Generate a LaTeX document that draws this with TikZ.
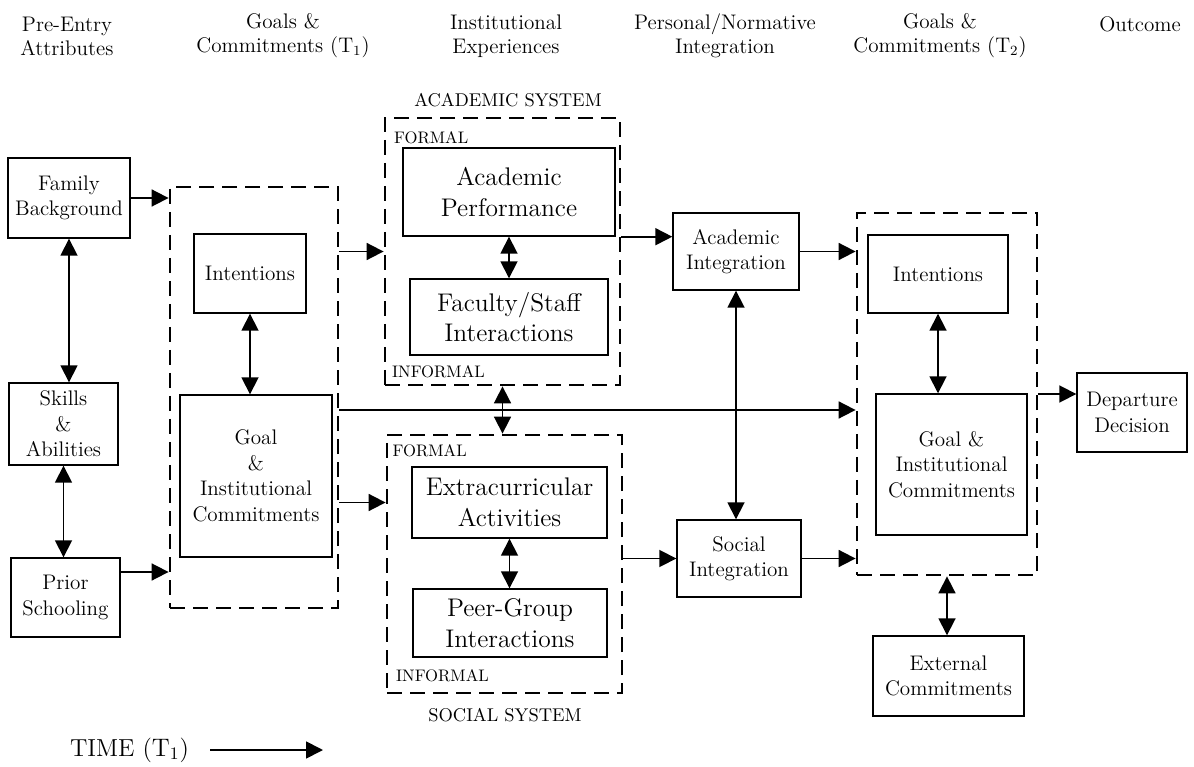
\documentclass[tikz,border=0pt]{standalone}
\usetikzlibrary{arrows.meta}

\begin{document}
\begin{tikzpicture}[
    box/.style={draw, line width=0.8pt, align=center, inner sep=0pt, font=\fontsize{12}{14.5}\selectfont},
    bigbox/.style={box, font=\fontsize{14.5}{17.5}\selectfont},
    dbox/.style={draw, line width=1.6pt, inner sep=0pt, dash pattern=on 3mm off 1.6mm},
    hdr/.style={align=center, font=\fontsize{12}{13.6}\selectfont},
    tag/.style={inner sep=1pt, font=\fontsize{9.5}{11}\selectfont},
    sys/.style={font=\fontsize{10.5}{12}\selectfont},
    arr/.style={-{Triangle[length=3.4mm, width=3.4mm]}, line width=1pt},
    dblarr/.style={{Triangle[length=3.4mm, width=3.4mm]}-{Triangle[length=3.4mm, width=3.4mm]}, line width=1pt}
  ]
      \useasboundingbox (0,0) rectangle (23.88,-15.34);

      % column headings
      \node[hdr] (h1) at (1.34,-0.72) {Pre-Entry\\Attributes};
      \node[hdr] (h2) at (5.66,-0.72) {Goals \&\\Commitments ($\mathrm{T}_1$)};
      \node[hdr] (h3) at (10.12,-0.72) {Institutional\\Experiences};
      \node[hdr] (h4) at (14.5,-0.72) {Personal/Normative\\Integration};
      \node[hdr] (h5) at (18.8,-0.72) {Goals \&\\Commitments ($\mathrm{T}_2$)};
      \node[hdr] (h6) at (22.8,-0.48) {Outcome};

      % pre-entry attributes
      \node[box, minimum width=2.44cm, minimum height=1.6cm] (fam) at (1.38,-3.96) {Family\\Background};
      \node[box, minimum width=2.18cm, minimum height=1.64cm] (skills) at (1.27,-8.48) {Skills\\\&\\Abilities};
      \node[box, minimum width=2.18cm, minimum height=1.58cm] (prior) at (1.31,-11.95) {Prior\\Schooling};

      % goals and commitments, T1
      \node[dbox, minimum width=3.36cm, minimum height=8.42cm] (goals1) at (5.08,-7.95) {};
      \node[box, minimum width=2.24cm, minimum height=1.58cm] (int1) at (5.0,-5.47) {Intentions};
      \node[box, minimum width=3.04cm, minimum height=3.24cm] (com1) at (5.12,-9.52) {Goal\\\&\\Institutional\\Commitments};

      % academic system
      \node[dbox, minimum width=4.7cm, minimum height=5.34cm] (acsys) at (10.05,-5.03) {};
      \node[sys] (acsyslbl) at (10.16,-2.0) {ACADEMIC SYSTEM};
      \node[tag, anchor=north west] (acformal) at ([shift={(0.17,-0.25)}]acsys.north west) {FORMAL};
      \node[tag, anchor=south west] (acinformal) at ([shift={(0.13,0.13)}]acsys.south west) {INFORMAL};
      \node[bigbox, minimum width=4.24cm, minimum height=1.76cm] (acperf) at (10.18,-3.84) {Academic\\Performance};
      \node[bigbox, minimum width=3.96cm, minimum height=1.52cm] (facstaff) at (10.18,-6.34) {Faculty/Staff\\Interactions};

      % social system
      \node[dbox, minimum width=4.7cm, minimum height=5.16cm] (socsys) at (10.09,-11.28) {};
      \node[sys] (socsyslbl) at (10.1,-14.3) {SOCIAL SYSTEM};
      \node[tag, anchor=north west] (soformal) at ([shift={(0.1,-0.18)}]socsys.north west) {FORMAL};
      \node[tag, anchor=south west] (soinformal) at ([shift={(0.17,0.2)}]socsys.south west) {INFORMAL};
      \node[bigbox, minimum width=3.9cm, minimum height=1.42cm] (extra) at (10.19,-10.05) {Extracurricular\\Activities};
      \node[bigbox, minimum width=3.88cm, minimum height=1.36cm] (peer) at (10.2,-12.46) {Peer-Group\\Interactions};

      % integration
      \node[box, minimum width=2.52cm, minimum height=1.54cm] (acint) at (14.72,-5.03) {Academic\\Integration};
      \node[box, minimum width=2.48cm, minimum height=1.54cm] (soint) at (14.78,-11.17) {Social\\Integration};

      % goals and commitments, T2
      \node[dbox, minimum width=3.6cm, minimum height=7.24cm] (goals2) at (18.94,-7.88) {};
      \node[box, minimum width=2.8cm, minimum height=1.56cm] (int2) at (18.76,-5.48) {Intentions};
      \node[box, minimum width=3.02cm, minimum height=2.82cm] (com2) at (19.03,-9.29) {Goal \&\\Institutional\\Commitments};
      \node[box, minimum width=3.02cm, minimum height=1.6cm] (extc) at (18.97,-13.52) {External\\Commitments};

      % outcome
      \node[box, minimum width=2.2cm, minimum height=1.58cm] (depart) at (22.64,-8.25) {Departure\\Decision};

      % time axis
      \node[font=\fontsize{14}{16}\selectfont] (time) at (2.59,-15.0) {TIME ($\mathrm{T}_1$)};
      \coordinate (timeend) at (6.46,-15.0);

      \draw[dblarr] (fam.south) -- (fam.south |- skills.north);
      \draw[dblarr] (skills.south) -- (skills.south |- prior.north);
      \draw[arr] (fam.east) -- (fam.east -| goals1.west);
      \draw[arr] ([yshift=5.1mm]prior.east) -- ([yshift=5.1mm]prior.east -| goals1.west);
      \draw[dblarr] (int1.south) -- (int1.south |- com1.north);

      \draw[arr] (goals1.east |- acsys.west) -- (acsys.west);
      \draw[arr] (goals1.east |- extra) -- (socsys.west |- extra);
      \draw[arr] ([yshift=-2.5mm]goals1.east) -- ([yshift=-2.5mm]goals1.east -| goals2.west);

      \draw[dblarr] (acperf.south) -- (acperf.south |- facstaff.north);
      \draw[dblarr] (extra.south) -- (extra.south |- peer.north);
      \draw[dblarr] (acsys.south) -- (acsys.south |- socsys.north);

      \draw[arr] (acsys.east |- acperf.south) -- (acint.west |- acperf.south);
      \draw[arr] (socsys.east |- soint.west) -- (soint.west);
      \draw[dblarr] (acint.south) -- (acint.south |- soint.north);
      \draw[arr] (acint.east) -- (acint.east -| goals2.west);
      \draw[arr] (soint.east) -- (soint.east -| goals2.west);

      \draw[dblarr] (int2.south) -- (int2.south |- com2.north);
      \draw[arr] (goals2.east) -- (goals2.east -| depart.west);
      \draw[dblarr] (goals2.south) -- (goals2.south |- extc.north);

      \draw[arr] ([xshift=3mm]time.east) -- (timeend);
    \end{tikzpicture}
\end{document}
